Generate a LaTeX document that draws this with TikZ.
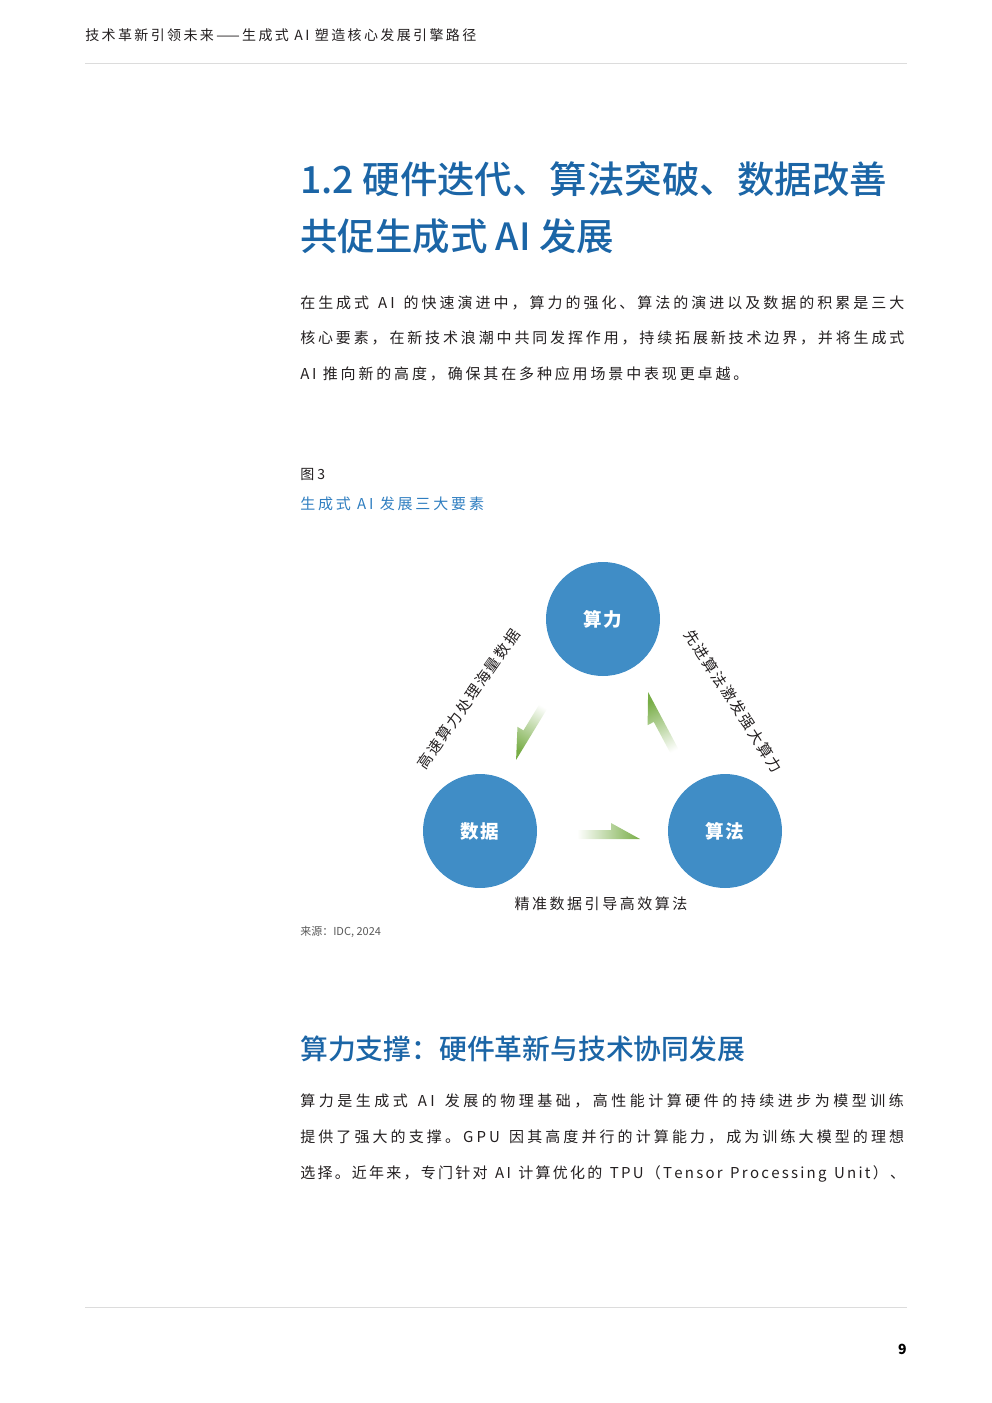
\documentclass[tikz,border=0pt]{standalone}
\usepackage{fontspec}
\setmainfont{Noto Sans CJK SC}
\newfontfamily\headfont{Noto Sans CJK SC Medium}
\usetikzlibrary{calc}
\definecolor{titleblue}{HTML}{1B65A6}
\definecolor{capblue}{HTML}{2F7EC0}
\definecolor{coreblue}{HTML}{408DC6}
\definecolor{flowgreen}{HTML}{78AD47}
\definecolor{bodytext}{HTML}{231F20}
\definecolor{rulegray}{HTML}{DCDCDC}
\def\fsize#1{\fontsize{#1}{#1}\selectfont}
% full text lines are set flush to both margins
\def\jspread#1{\ifx#1\relax\else#1\hskip0pt plus1fil minus1fil\expandafter\jspread\fi}
\def\jline#1{\makebox[455.25pt][s]{\jspread#1\relax}}
\def\gap{\kern0.2em}
\def\flowarrow[#1](#2)(#3:#4:#5){\begin{scope}[shift={(#2)},rotate=#3,yscale=#5]
	\shade[#1] (0,-4.5) -- ({#4-29},-4.5) -- ({#4-29},-11.5) -- (#4,4.5) -- (0,4.5) -- cycle;
\end{scope}}

\begin{document}
\begin{tikzpicture}[x=0.75pt, y=-0.75pt,
	plain/.style={anchor=base west, inner sep=0pt, text=bodytext},
	body/.style={plain, font=\fsize{11.25pt}\addfontfeature{LetterSpace=19}},
	headline/.style={anchor=base west, inner sep=0pt, text=titleblue, font=\headfont\fsize{28.1pt}},
	core/.style={circle, fill=coreblue, minimum size=85.5pt, inner sep=0pt, text=white, font=\bfseries\fsize{13.9pt}\addfontfeature{LetterSpace=6}},
	tag/.style={inner sep=0pt, text=bodytext, font=\fsize{11.25pt}\addfontfeature{LetterSpace=12}},
	flow/.style={left color=white, right color=flowgreen}]
	\useasboundingbox (0,0) rectangle (992,1403);
	%%%%% HEADER %%%%%
	\node[plain, font=\fsize{10.5pt}\addfontfeature{LetterSpace=17}] (runhead) at (85,40.3) {技术革新引领未来——生成式 AI 塑造核心发展引擎路径};
	\draw[rulegray, line width=0.75pt] (85,63) -- (907,63);
	
	%%%%% SECTION 1.2 %%%%%
	\node[headline] (title1) at (300,193) {1.2 硬件迭代、算法突破、数据改善};
	\node[headline] (title2) at (300,250) {共促生成式 AI 发展};
	
	\node[body] (intro1) at (300,308) {\jline{在生成式\gap AI\gap 的快速演进中，算力的强化、算法的演进以及数据的积累是三大}};
	\node[body] (intro2) at (300,343.5) {\jline{核心要素，在新技术浪潮中共同发挥作用，持续拓展新技术边界，并将生成式}};
	\node[body] (intro3) at (300,379) {AI 推向新的高度，确保其在多种应用场景中表现更卓越。};
	
	%%%%% FIGURE 3 %%%%%
	\node[plain, font=\fsize{10.5pt}] (fignum) at (300,479) {图 3};
	\node[plain, text=capblue, font=\fsize{11.25pt}\addfontfeature{LetterSpace=19}] (figcap) at (300,509) {生成式 AI 发展三大要素};
	
	\node[core] (power) at (603,619) {算力};
	\node[core] (data) at (480,831) {数据};
	\node[core] (algo) at (725,831) {算法};
	
	\flowarrow[flow, shading angle=90](577,834.5)(0:63:1)
	\flowarrow[flow, shading angle=208](677,756)(118:70:1)
	\flowarrow[flow, shading angle=328.7](546,702)(238.7:65:-1)
	
	\node[tag, rotate=55] (powertag) at (468.5,699) {高速算力处理海量数据};
	\node[tag, rotate=-57] (algotag) at (733.5,701) {先进算法激发强大算力};
	\node[tag, font=\fsize{11.25pt}\addfontfeature{LetterSpace=17}] (datatag) at (601,904) {精准数据引导高效算法};
	
	\node[plain, text=black!65, font=\fsize{8.25pt}] (source) at (300,935) {来源：IDC, 2024};
	
	%%%%% COMPUTE SUPPORT %%%%%
	\node[headline, font=\headfont\fsize{20.85pt}] (subhead) at (300,1059.6) {算力支撑：硬件革新与技术协同发展};
	
	\node[body] (para1) at (300,1106) {\jline{算力是生成式\gap AI\gap 发展的物理基础，高性能计算硬件的持续进步为模型训练}};
	\node[body] (para2) at (300,1142) {\jline{提供了强大的支撑。GPU\gap 因其高度并行的计算能力，成为训练大模型的理想}};
	\node[body, font=\fsize{11.25pt}\addfontfeature{LetterSpace=14}] (para3) at (300,1178) {\jline{选择。近年来，专门针对\gap AI\gap 计算优化的\gap TPU（Tensor\gap Processing\gap Unit）、}};
	
	%%%%% FOOTER %%%%%
	\draw[rulegray, line width=0.75pt] (85,1307) -- (907,1307);
	\node[plain, anchor=base east, text=black, font=\bfseries\fsize{10.5pt}] (pageno) at (907,1354) {9};
\end{tikzpicture}
\end{document}
